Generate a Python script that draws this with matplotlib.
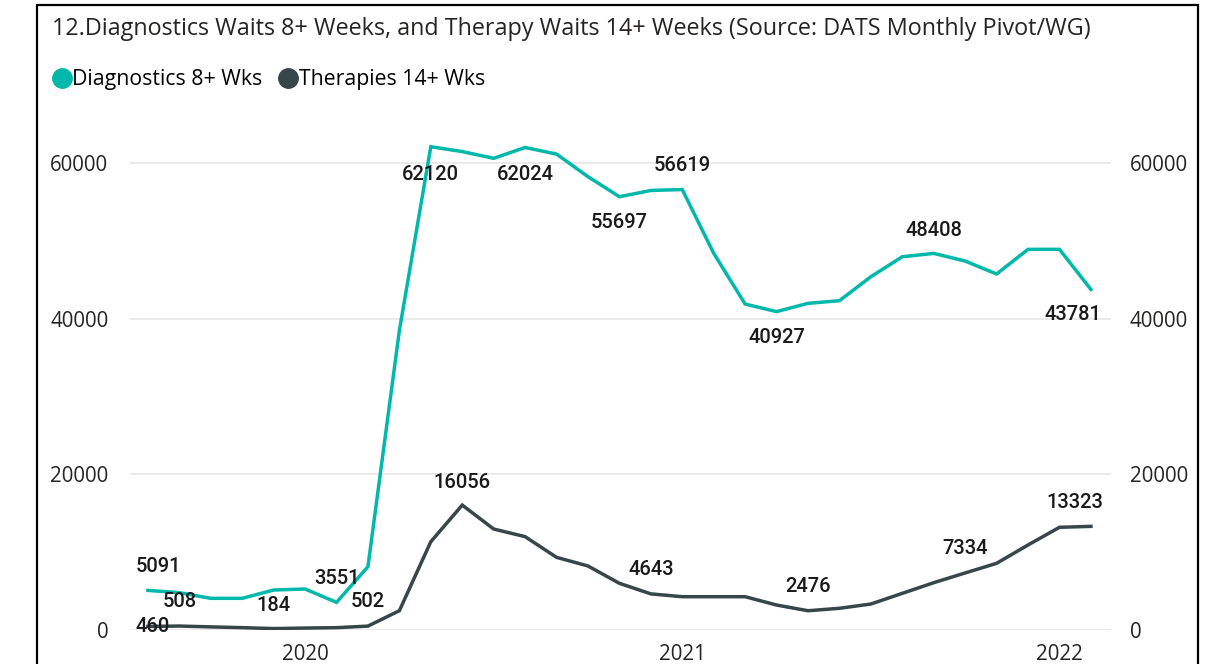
import matplotlib.pyplot as plt
import matplotlib.patches as patches
from matplotlib.lines import Line2D
import pandas as pd

months = pd.date_range("2019-08-01", "2022-02-01", freq="MS")
diagnostics = [5091, 4800, 4070, 4070, 5140, 5270, 3551, 8140, 38500, 62120,
               61500, 60630, 62024, 61180, 58270, 55697, 56500, 56619, 48420, 41900,
               40927, 41990, 42330, 45410, 47980, 48408, 47430, 45760, 48930, 48930,
               43781]
therapies = [460, 508, 400, 300, 184, 250, 300, 502, 2480, 11350,
             16056, 12980, 12000, 9340, 8230, 6000, 4643, 4280, 4280, 4280,
             3210, 2476, 2790, 3340, 4710, 6080, 7334, 8570, 10930, 13200,
             13323]

# which points carry a data label: (index, dy in px, dx in px)
diag_labels = [(0, 24, 11), (6, 24, 0), (9, -28, 0), (12, -27, 0), (15, -26, 0),
               (17, 24, 0), (20, -26, 0), (25, 23, 0), (30, -25, -18)]
ther_labels = [(0, 0, 5), (1, 25, 0), (4, 23, 0), (7, 25, 0), (10, 23, 0),
               (16, 24, 0), (21, 24, 0), (26, 24, 0), (30, 24, -16)]

teal = "#01B8AA"
dark = "#374649"
W, H = 1216, 664

fig = plt.figure(figsize=(W / 100, H / 100), dpi=100)
ax = fig.add_axes([130 / W, 34 / H, (1111 - 130) / W, (630 - 101) / H])

x = list(range(len(months)))
ax.plot(x, diagnostics, color=teal, lw=2.5, solid_joinstyle="miter", zorder=3)
ax.plot(x, therapies, color=dark, lw=2.5, solid_joinstyle="miter", zorder=3)

lab_font = dict(family="Roboto", fontsize=14.5, fontweight="medium", color="#1a1a1a")
for series, labels in ((diagnostics, diag_labels), (therapies, ther_labels)):
    for i, dy, dx in labels:
        ax.annotate(str(series[i]), (x[i], series[i]), xytext=(dx, dy),
                    textcoords="offset pixels", ha="center", va="center",
                    zorder=4, **lab_font)

ax.set_xlim(-0.57, 30.64)
ax.set_ylim(0, 68000)
yt = [0, 20000, 40000, 60000]
ax.set_yticks(yt)
ax.set_yticklabels([str(v) for v in yt])
ax.grid(axis="y", color="#e6e6e6", lw=1.2)
ax.set_axisbelow(True)

year_idx = [i for i, m in enumerate(months) if m.month == 1]
ax.set_xticks(year_idx)
ax.set_xticklabels([str(months[i].year) for i in year_idx])

tick_font = dict(family="Open Sans", size=14.8, color="#252423")
ax.tick_params(axis="both", length=0)
ax.tick_params(axis="y", pad=15.5)
ax.tick_params(axis="x", pad=10)
for t in ax.get_xticklabels() + ax.get_yticklabels():
    t.set_fontfamily(tick_font["family"])
    t.set_fontsize(tick_font["size"])
    t.set_color(tick_font["color"])
for s in ax.spines.values():
    s.set_visible(False)

ax2 = ax.twinx()
ax2.set_ylim(ax.get_ylim())
ax2.set_yticks(yt)
ax2.set_yticklabels([str(v) for v in yt])
ax2.tick_params(axis="y", length=0, pad=13.5)
for t in ax2.get_yticklabels():
    t.set_fontfamily(tick_font["family"])
    t.set_fontsize(tick_font["size"])
    t.set_color(tick_font["color"])
for s in ax2.spines.values():
    s.set_visible(False)

fig.text(52 / W, 1 - 29 / H,
         "12.Diagnostics Waits 8+ Weeks, and Therapy Waits 14+ Weeks (Source: DATS Monthly Pivot/WG)",
         family="Open Sans", fontsize=16.8, color="#252423", va="center", ha="left")

handles = [Line2D([], [], ls="", marker="o", ms=14, color=teal),
           Line2D([], [], ls="", marker="o", ms=14, color=dark)]
fig.legend(handles, ["Diagnostics 8+ Wks", "Therapies 14+ Wks"], ncol=2,
           loc="center left", bbox_to_anchor=(30 / W, 1 - 80 / H), frameon=False,
           handletextpad=-0.1, columnspacing=0.6, handlelength=1.2,
           prop=dict(family="Open Sans", size=15.3))

border = patches.Rectangle((37 / W, -0.05), (1198 - 37) / W, 1.05 - 5 / H,
                           transform=fig.transFigure, fill=False,
                           edgecolor="black", lw=1.6, clip_on=False)
fig.patches.append(border)

fig.savefig("out.png", dpi=100, facecolor="white")
